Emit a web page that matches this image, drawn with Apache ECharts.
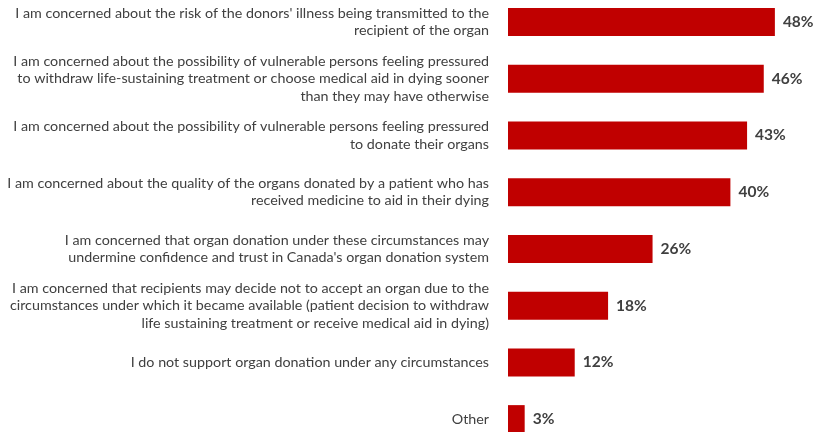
<!DOCTYPE html>
<html><head><meta charset="utf-8">
<script src="https://cdn.jsdelivr.net/npm/echarts@6/dist/echarts.min.js"></script>
<style>html,body{margin:0;padding:0;background:#fff}#c{width:820px;height:432px}</style>
</head><body><div id="c"></div>
<script>
const categories = [
  "I am concerned about the risk of the donors' illness being transmitted to the\nrecipient of the organ",
  "I am concerned about the possibility of vulnerable persons feeling pressured\nto withdraw life-sustaining treatment or choose medical aid in dying sooner\nthan they may have otherwise",
  "I am concerned about the possibility of vulnerable persons feeling pressured\nto donate their organs",
  "I am concerned about the quality of the organs donated by a patient who has\nreceived medicine to aid in their dying",
  "I am concerned that organ donation under these circumstances may\nundermine confidence and trust in Canada's organ donation system",
  "I am concerned that recipients may decide not to accept an organ due to the\ncircumstances under which it became available (patient decision to withdraw\nlife sustaining treatment or receive medical aid in dying)",
  "I do not support organ donation under any circumstances",
  "Other"
];
const values = [48, 46, 43, 40, 26, 18, 12, 3];

const chart = echarts.init(document.getElementById('c'), null, {renderer: 'canvas'});
chart.setOption({
  animation: false,
  grid: {left: 508, width: 278, top: -6.5, height: 454, containLabel: false, outerBoundsMode: 'none'},
  xAxis: {type: 'value', min: 0, max: 50, show: false},
  yAxis: {
    type: 'category', data: categories, inverse: true,
    axisLine: {show: false}, axisTick: {show: false},
    axisLabel: {
      margin: 19, fontFamily: 'Lato', fontSize: 14.3, color: '#404040',
      lineHeight: 17.5, align: 'right'
    }
  },
  series: [{
    type: 'bar', data: values, barWidth: 28,
    itemStyle: {color: '#C00000'},
    label: {
      show: true, position: 'right', distance: 8,
      formatter: p => p.value + '%',
      fontFamily: 'Lato', fontWeight: 'bold', fontSize: 15.5, color: '#404040'
    }
  }]
});
</script></body></html>
